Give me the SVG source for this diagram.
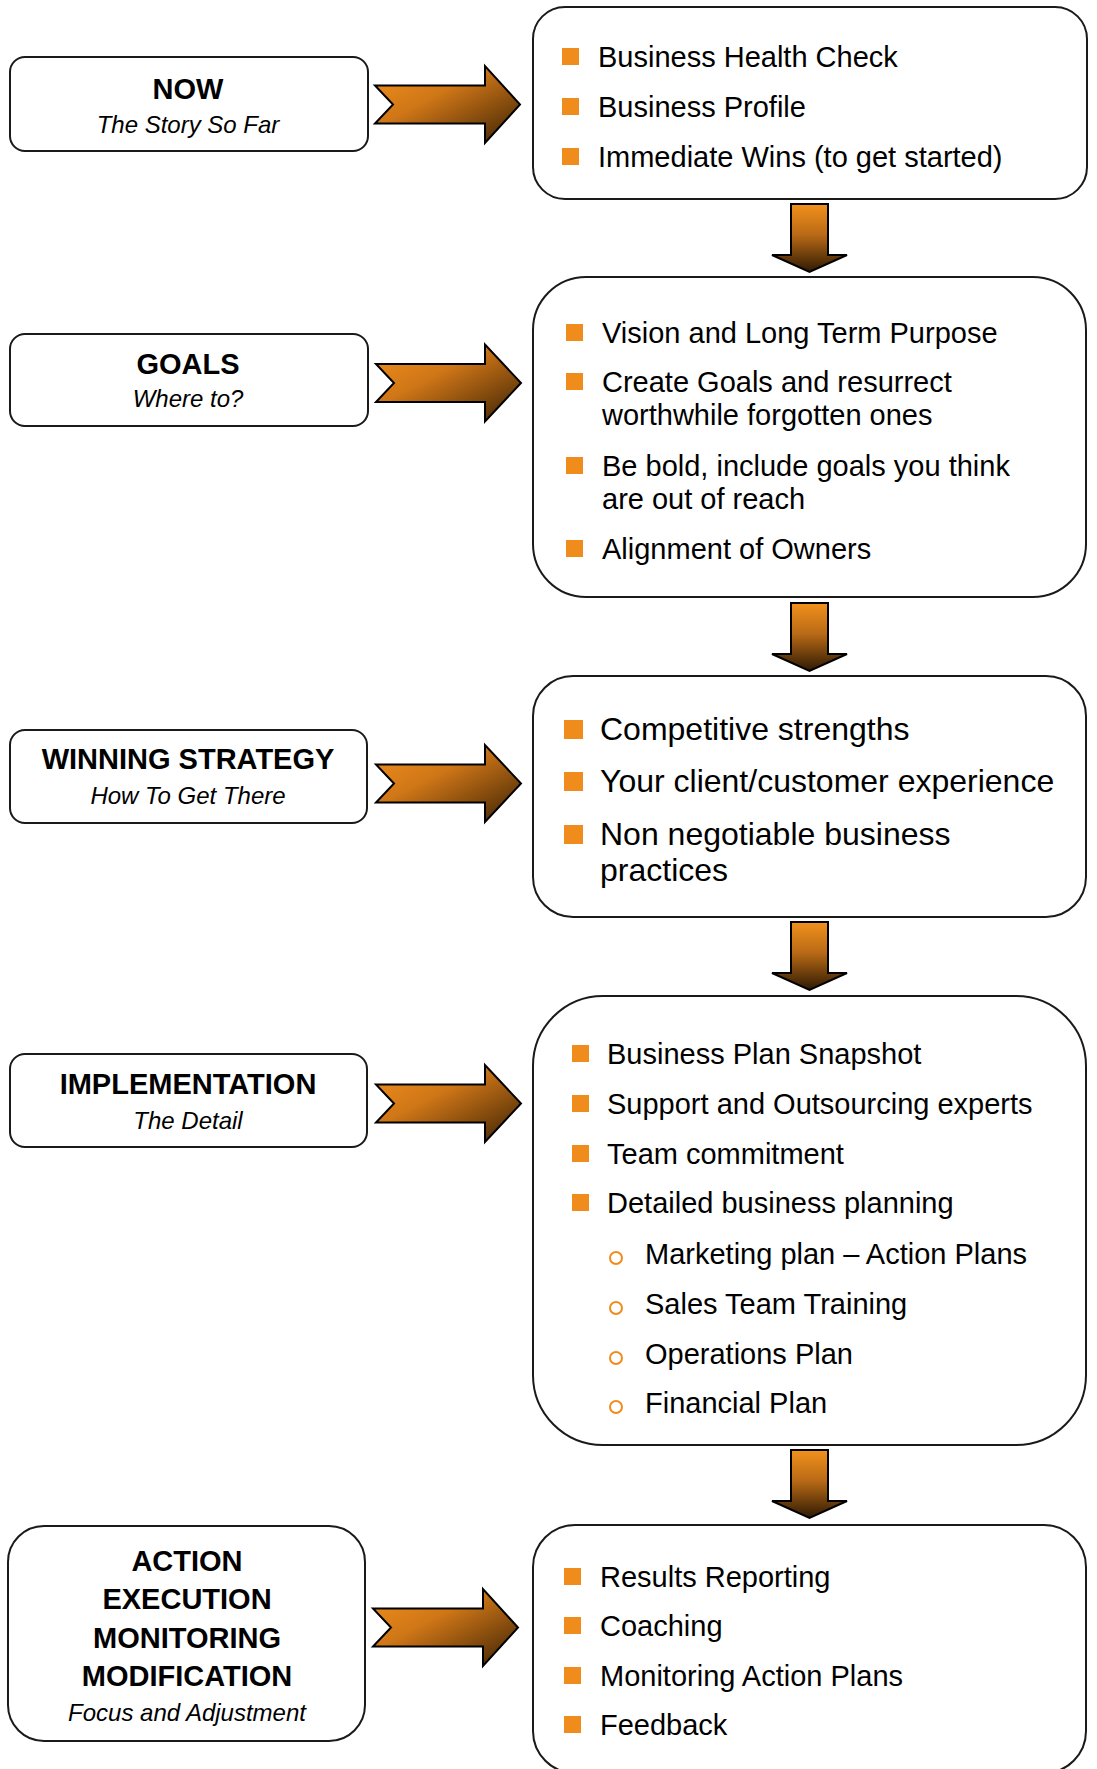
<svg xmlns="http://www.w3.org/2000/svg" width="1097" height="1769" viewBox="0 0 1097 1769">
<defs>
<linearGradient id="gr" x1="0" y1="0" x2="1" y2="1">
<stop offset="0" stop-color="#F2911C"/>
<stop offset="0.4" stop-color="#CF7617"/>
<stop offset="1" stop-color="#3A2104"/>
</linearGradient>
<linearGradient id="gd" x1="0" y1="0" x2="0" y2="1">
<stop offset="0" stop-color="#F2911C"/>
<stop offset="0.45" stop-color="#B96A16"/>
<stop offset="1" stop-color="#2E1A03"/>
</linearGradient>
<style>
.box{fill:#fff;stroke:#1a1a1a;stroke-width:2}
.ra{fill:url(#gr);stroke:#000;stroke-width:2;stroke-linejoin:miter}
.da{fill:url(#gd);stroke:#000;stroke-width:2;stroke-linejoin:miter}
.t{font-family:"Liberation Sans",Arial,sans-serif;fill:#000}
.h{font-size:29px;font-weight:bold;text-anchor:middle}
.s{font-size:24px;font-style:italic;text-anchor:middle}
.b{font-size:29px}
.b3{font-size:32px}
.sq{fill:#F08C1C}
.ci{fill:none;stroke:#F08C1C;stroke-width:2}
</style>
</defs>

<g id="connectors">
<path class="ra" d="M375,85.5 L485,85.5 L485,66 L520,104.5 L485,143 L485,123.5 L375,123.5 L393,104.5 Z"/>
<path class="ra" d="M376,364 L485,364 L485,344.5 L521,383 L485,421.5 L485,402 L376,402 L394,383 Z"/>
<path class="ra" d="M376,764.5 L485,764.5 L485,745 L521,783.5 L485,822 L485,802.5 L376,802.5 L394,783.5 Z"/>
<path class="ra" d="M376,1084.5 L485,1084.5 L485,1065 L521,1103.5 L485,1142 L485,1122.5 L376,1122.5 L394,1103.5 Z"/>
<path class="ra" d="M373,1608.5 L483,1608.5 L483,1589 L518,1627.5 L483,1666 L483,1646.5 L373,1646.5 L391,1627.5 Z"/>
<path class="da" d="M791,204 L828,204 L828,255 L847,255 L809.5,272 L772,255 L791,255 Z"/>
<path class="da" d="M791,603 L828,603 L828,654 L847,654 L809.5,671 L772,654 L791,654 Z"/>
<path class="da" d="M791,922 L828,922 L828,973 L847,973 L809.5,990 L772,973 L791,973 Z"/>
<path class="da" d="M791,1450 L828,1450 L828,1501 L847,1501 L809.5,1518 L772,1501 L791,1501 Z"/>
</g>

<g id="now">
<rect class="box" x="10" y="57" width="358" height="94" rx="15"/>
<text class="t h" x="188" y="99">NOW</text>
<text class="t s" x="188" y="133">The Story So Far</text>
</g>

<g id="goals">
<rect class="box" x="10" y="334" width="358" height="92" rx="15"/>
<text class="t h" x="188" y="374">GOALS</text>
<text class="t s" x="188" y="407">Where to?</text>
</g>

<g id="strategy">
<rect class="box" x="10" y="730" width="357" height="93" rx="15"/>
<text class="t h" x="188" y="769">WINNING STRATEGY</text>
<text class="t s" x="188" y="804">How To Get There</text>
</g>

<g id="implementation">
<rect class="box" x="10" y="1054" width="357" height="93" rx="15"/>
<text class="t h" x="188" y="1094">IMPLEMENTATION</text>
<text class="t s" x="188" y="1129">The Detail</text>
</g>

<g id="action">
<rect class="box" x="8" y="1526" width="357" height="215" rx="36"/>
<text class="t h" x="187" y="1571">ACTION</text>
<text class="t h" x="187" y="1609">EXECUTION</text>
<text class="t h" x="187" y="1648">MONITORING</text>
<text class="t h" x="187" y="1686">MODIFICATION</text>
<text class="t s" x="187" y="1721">Focus and Adjustment</text>
</g>

<g id="box-now">
<rect class="box" x="533" y="7" width="554" height="192" rx="32"/>
<rect class="sq" x="562" y="48" width="17" height="17"/>
<text class="t b" x="598" y="67">Business Health Check</text>
<rect class="sq" x="562" y="98" width="17" height="17"/>
<text class="t b" x="598" y="117">Business Profile</text>
<rect class="sq" x="562" y="148" width="17" height="17"/>
<text class="t b" x="598" y="167">Immediate Wins (to get started)</text>
</g>

<g id="box-goals">
<rect class="box" x="533" y="277" width="553" height="320" rx="53"/>
<rect class="sq" x="566" y="324" width="17" height="17"/>
<text class="t b" x="602" y="343">Vision and Long Term Purpose</text>
<rect class="sq" x="566" y="373" width="17" height="17"/>
<text class="t b" x="602" y="392">Create Goals and resurrect</text>
<text class="t b" x="602" y="425">worthwhile forgotten ones</text>
<rect class="sq" x="566" y="457" width="17" height="17"/>
<text class="t b" x="602" y="476">Be bold, include goals you think</text>
<text class="t b" x="602" y="509">are out of reach</text>
<rect class="sq" x="566" y="540" width="17" height="17"/>
<text class="t b" x="602" y="559">Alignment of Owners</text>
</g>

<g id="box-strategy">
<rect class="box" x="533" y="676" width="553" height="241" rx="40"/>
<rect class="sq" x="564" y="720" width="19" height="19"/>
<text class="t b3" x="600" y="740">Competitive strengths</text>
<rect class="sq" x="564" y="772" width="19" height="19"/>
<text class="t b3" x="600" y="792">Your client/customer experience</text>
<rect class="sq" x="564" y="825" width="19" height="19"/>
<text class="t b3" x="600" y="845">Non negotiable business</text>
<text class="t b3" x="600" y="881">practices</text>
</g>

<g id="box-implementation">
<rect class="box" x="533" y="996" width="553" height="449" rx="70"/>
<rect class="sq" x="572" y="1045" width="17" height="17"/>
<text class="t b" x="607" y="1064">Business Plan Snapshot</text>
<rect class="sq" x="572" y="1095" width="17" height="17"/>
<text class="t b" x="607" y="1114">Support and Outsourcing experts</text>
<rect class="sq" x="572" y="1145" width="17" height="17"/>
<text class="t b" x="607" y="1164">Team commitment</text>
<rect class="sq" x="572" y="1194" width="17" height="17"/>
<text class="t b" x="607" y="1213">Detailed business planning</text>
<circle class="ci" cx="616" cy="1258" r="6"/>
<text class="t b" x="645" y="1264">Marketing plan – Action Plans</text>
<circle class="ci" cx="616" cy="1308" r="6"/>
<text class="t b" x="645" y="1314">Sales Team Training</text>
<circle class="ci" cx="616" cy="1358" r="6"/>
<text class="t b" x="645" y="1364">Operations Plan</text>
<circle class="ci" cx="616" cy="1407" r="6"/>
<text class="t b" x="645" y="1413">Financial Plan</text>
</g>

<g id="box-action">
<rect class="box" x="533" y="1525" width="553" height="248" rx="42"/>
<rect class="sq" x="564" y="1568" width="17" height="17"/>
<text class="t b" x="600" y="1587">Results Reporting</text>
<rect class="sq" x="564" y="1617" width="17" height="17"/>
<text class="t b" x="600" y="1636">Coaching</text>
<rect class="sq" x="564" y="1667" width="17" height="17"/>
<text class="t b" x="600" y="1686">Monitoring Action Plans</text>
<rect class="sq" x="564" y="1716" width="17" height="17"/>
<text class="t b" x="600" y="1735">Feedback</text>
</g>
</svg>
